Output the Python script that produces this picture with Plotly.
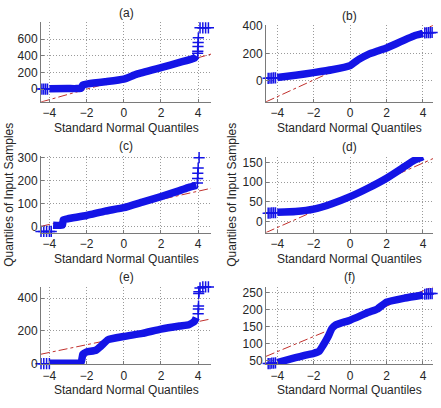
import plotly.graph_objects as go

W, H = 441, 408

# ---------------- data ----------------
# (a)
a_x = [-4.0, -3.0, -2.3, -2.2, -2.0, -1.0, 0.0, 0.7, 2.0, 3.0, 3.8, 3.9]
a_y = [5, 6, 10, 50, 60, 88, 120, 180, 258, 320, 372, 400]
a_lx = [-4.4, -4.3, -4.2, -4.1]
a_ly = [0, 0, 0, 0]
a_rx = [3.97, 3.98, 3.99, 4.0, 4.01, 4.1, 4.25, 4.4, 4.55]
a_ry = [430, 455, 510, 560, 615, 735, 735, 735, 735]
a_refx = [-4.45, 4.69]
a_refy = [-155, 420]

# (b)
b_x = [-4.0, -3.0, -2.0, -1.0, 0.0, 0.5, 1.0, 1.5, 2.0, 2.5, 3.0, 3.5, 4.0]
b_y = [26, 42, 61, 82, 112, 159, 194, 218, 241, 269, 300, 328, 346]
b_lx = [-4.5, -4.4, -4.3, -4.2, -4.1]
b_ly = [19, 20, 21, 22, 23]
b_rx = [4.1, 4.2, 4.3, 4.4, 4.5]
b_ry = [350, 351, 352, 352, 353]
b_refx = [-4.62, 4.55]
b_refy = [-152, 405]

# (c)
c_x = [-3.8, -3.3, -3.25, -3.0, -2.0, -1.0, 0.0, 1.0, 2.0, 3.0, 3.5, 3.9]
c_y = [7, 7, 30, 35, 49, 68, 83, 107, 131, 157, 171, 180]
c_lx = [-4.45, -4.3, -4.15, -4.0, -3.9]
c_ly = [-20, -20, -20, -20, -20]
c_rx = [3.96, 3.97, 3.98, 4.0, 4.05, 4.25, 4.4]
c_ry = [190, 210, 232, 255, 300, 308, 308]
c_refx = [-4.45, 4.69]
c_refy = [2, 167]

# (d)
d_x = [-4.0, -3.0, -2.0, -1.0, 0.0, 1.0, 2.0, 3.0, 3.5, 4.0]
d_y = [23, 25, 31, 45, 63, 85, 110, 140, 155, 165]
d_lx = [-4.5, -4.4, -4.3, -4.2, -4.1]
d_ly = [21, 21, 22, 22, 22]
d_rx = [4.1, 4.2, 4.3, 4.4, 4.5]
d_ry = [167, 168, 168, 169, 169]
d_refx = [-4.62, 4.55]
d_refy = [-28.5, 160]

# (e)
e_x = [-4.0, -3.0, -2.3, -2.2, -2.0, -1.5, -1.2, -0.85, 0.0, 1.0, 2.0, 3.0, 3.5, 3.8, 3.9]
e_y = [3, 3, 5, 58, 72, 82, 110, 146, 166, 185, 211, 230, 238, 258, 280]
e_lx = [-4.45, -4.3, -4.15, -4.0]
e_ly = [0, 0, 0, 0]
e_rx = [4.0, 4.01, 4.02, 4.03, 4.04, 4.1, 4.25, 4.4, 4.55]
e_ry = [305, 333, 351, 428, 439, 462, 468, 468, 468]
e_refx = [-4.45, 4.69]
e_refy = [58, 273]

# (f)
f_x = [-4.0, -3.5, -3.0, -2.5, -2.0, -1.7, -1.5, -1.2, -1.0, -0.8, 0.0, 1.0, 1.5, 2.0, 3.0, 4.0]
f_y = [45, 52, 59, 66, 72, 78, 94, 122, 145, 155, 169, 192, 202, 222, 234, 243]
f_lx = [-4.5, -4.4, -4.3, -4.2, -4.1]
f_ly = [42, 42, 43, 43, 44]
f_rx = [4.1, 4.2, 4.3, 4.4, 4.5]
f_ry = [245, 246, 246, 247, 247]
f_refx = [-4.62, 4.55]
f_refy = [63, 267]

titles = ["(a)", "(b)", "(c)", "(d)", "(e)", "(f)"]
x_ticks = [-4, -2, 0, 2, 4]
a_yticks = [0, 200, 400, 600]
b_yticks = [0, 200, 400]
c_yticks = [0, 100, 200, 300]
d_yticks = [0, 50, 100, 150]
e_yticks = [0, 200, 400]
f_yticks = [50, 100, 150, 200, 250]
xlabel = "Standard Normal Quantiles"
ylabel = "Quantiles of Input Samples"

# ---------------- layout (pixels) ----------------
boxes = [
    (41, 211, 17, 99),
    (266, 433, 20, 99),
    (41, 211, 155, 234),
    (266, 433, 156, 234),
    (41, 211, 290, 370),
    (266, 433, 290, 370),
]
yranges = [[-153, 800], [-152, 405], [-25, 307], [-28.5, 164], [-3, 469], [40, 267]]
xranges = [[-4.45, 4.69], [-4.62, 4.55]] * 3

panels = [
    (a_x, a_y, a_lx, a_ly, a_rx, a_ry, a_refx, a_refy, a_yticks),
    (b_x, b_y, b_lx, b_ly, b_rx, b_ry, b_refx, b_refy, b_yticks),
    (c_x, c_y, c_lx, c_ly, c_rx, c_ry, c_refx, c_refy, c_yticks),
    (d_x, d_y, d_lx, d_ly, d_rx, d_ry, d_refx, d_refy, d_yticks),
    (e_x, e_y, e_lx, e_ly, e_rx, e_ry, e_refx, e_refy, e_yticks),
    (f_x, f_y, f_lx, f_ly, f_rx, f_ry, f_refx, f_refy, f_yticks),
]

BLUE = "#1414e6"
RED = "#c0302c"
FONT = "Liberation Sans, Arial, sans-serif"
TXT = "#262626"
AX = "#7a7a7a"
GRID = "#9a9a9a"

fig = go.Figure()
annotations = []
for i, (bx, by, lx, ly, rx, ry, refx, refy, yt) in enumerate(panels):
    n = "" if i == 0 else str(i + 1)
    xa, ya = "x" + n, "y" + n
    fig.add_trace(go.Scatter(x=refx, y=refy, mode="lines", xaxis=xa, yaxis=ya,
                             line=dict(color=RED, width=1, dash="dashdot"),
                             showlegend=False, hoverinfo="skip"))
    fig.add_trace(go.Scatter(x=bx, y=by, mode="lines", xaxis=xa, yaxis=ya,
                             line=dict(color=BLUE, width=7.5, shape="spline", smoothing=0.4),
                             showlegend=False))
    fig.add_trace(go.Scatter(x=lx + rx, y=ly + ry, mode="markers", xaxis=xa, yaxis=ya,
                             marker=dict(symbol="cross-thin", size=8,
                                         line=dict(color=BLUE, width=1.5)),
                             cliponaxis=False, showlegend=False))
    l, r, t, b = boxes[i]
    xd = [l / W, r / W]
    yd = [1 - b / H, 1 - t / H]
    common = dict(showline=True, linecolor=AX, linewidth=1, ticks="inside", ticklen=3,
                  tickcolor=AX, showgrid=True, gridcolor=GRID, griddash="1px,2px", gridwidth=1,
                  zeroline=False, mirror=False, tickfont=dict(family=FONT, size=12, color=TXT))
    fig.update_layout(**{
        "xaxis" + n: dict(domain=xd, range=xranges[i], tickvals=x_ticks,
                          anchor=ya, **common),
        "yaxis" + n: dict(domain=yd, range=yranges[i], tickvals=yt,
                          anchor=xa, **common),
    })
    cx = (l + r) / 2 / W
    annotations.append(dict(text=titles[i], x=cx, y=1 - (t - 10) / H, xref="paper", yref="paper",
                            showarrow=False, font=dict(family=FONT, size=12, color=TXT),
                            xanchor="center", yanchor="middle"))
    annotations.append(dict(text=xlabel, x=cx, y=1 - (b + 27) / H, xref="paper", yref="paper",
                            showarrow=False, font=dict(family=FONT, size=12, color=TXT),
                            xanchor="center", yanchor="middle"))

for px in (9, 232):
    annotations.append(dict(text=ylabel, x=px / W, y=1 - 195 / H, xref="paper", yref="paper",
                            textangle=-90, showarrow=False,
                            font=dict(family=FONT, size=12, color=TXT),
                            xanchor="center", yanchor="middle"))

fig.update_layout(width=W, height=H, margin=dict(l=0, r=0, t=0, b=0),
                  paper_bgcolor="white", plot_bgcolor="white",
                  annotations=annotations, showlegend=False)

fig.write_html("out.html")
